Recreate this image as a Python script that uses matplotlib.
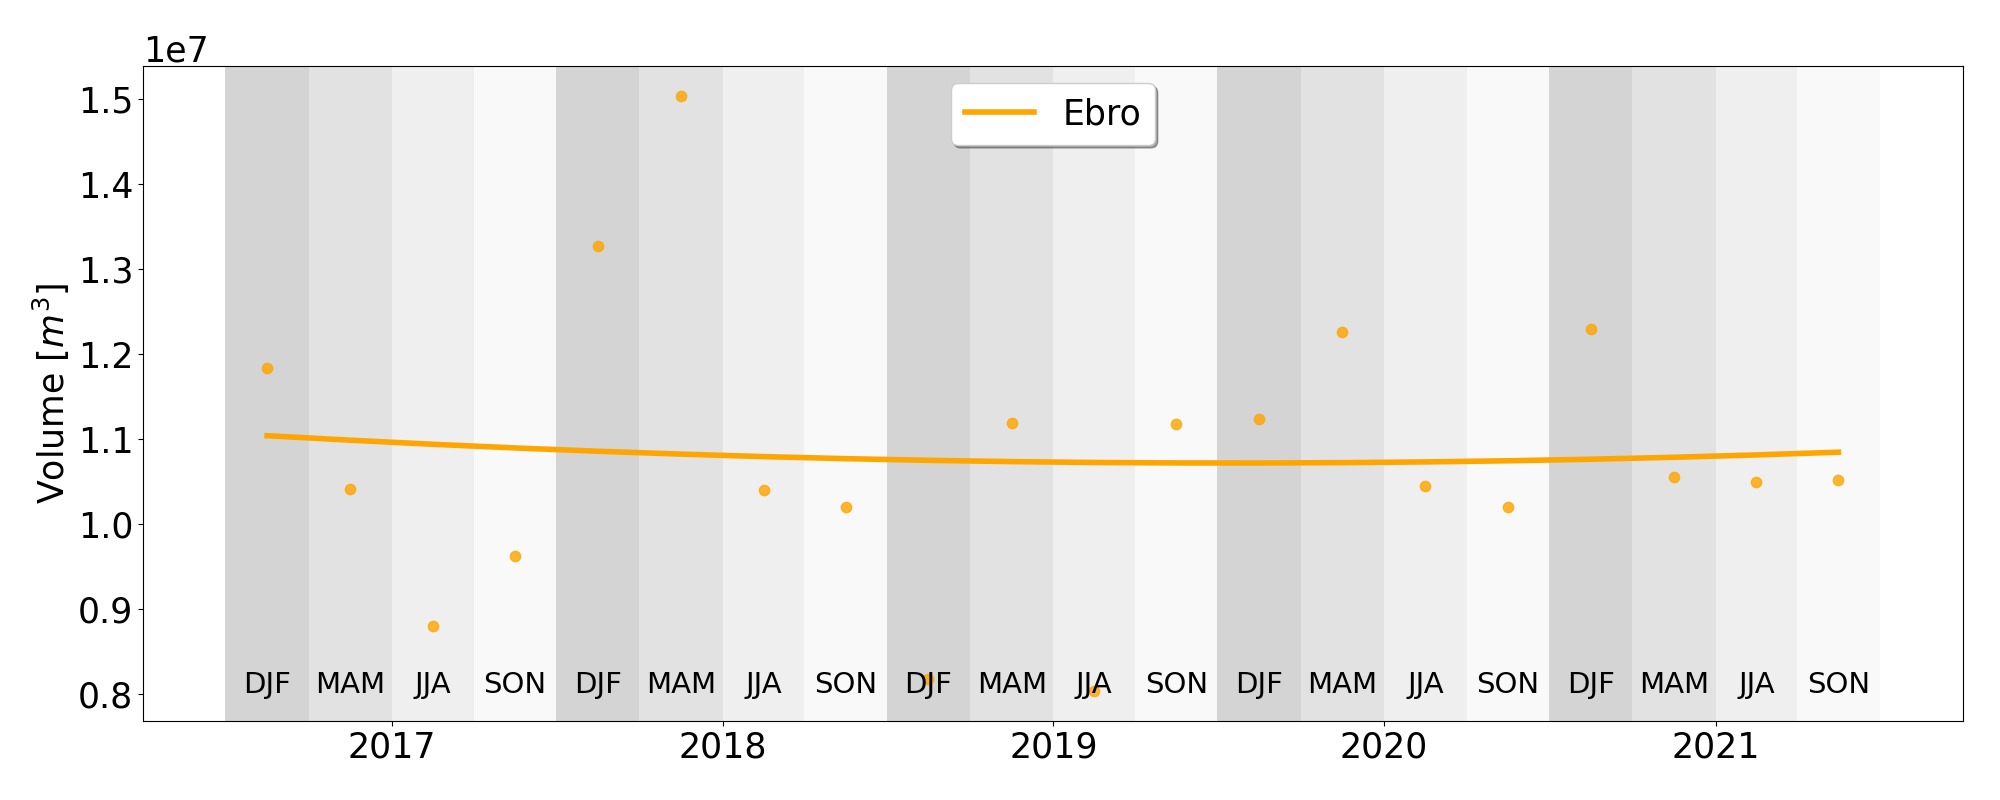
import numpy as np
import pandas as pd
import matplotlib
matplotlib.use("Agg")
from matplotlib import pyplot as plt
import matplotlib.dates as mdates

# seasonal volumes (m3), one per season band
seasons = ['DJF', 'MAM', 'JJA', 'SON'] * 5
volume = [1.184e7, 1.041e7, 0.881e7, 0.963e7,
          1.327e7, 1.504e7, 1.040e7, 1.020e7,
          0.818e7, 1.119e7, 0.804e7, 1.118e7,
          1.124e7, 1.226e7, 1.045e7, 1.020e7,
          1.230e7, 1.056e7, 1.050e7, 1.052e7]
band_colors = {'DJF': '#d4d4d4', 'MAM': '#e2e2e2', 'JJA': '#efefef', 'SON': '#f9f9f9'}

edges = pd.date_range('2016-07-01', periods=len(volume) + 1, freq='QS')
mid = edges[:-1] + (edges[1:] - edges[:-1]) / 2

fig = plt.figure(figsize=(20, 8), dpi=100)
ax = fig.add_axes([0.0715, 0.099, 0.91, 0.8185])

for i, s in enumerate(seasons):
    ax.axvspan(edges[i], edges[i + 1], color=band_colors[s], lw=0, zorder=0)
    ax.text(mid[i], 0.802e7, s, ha='center', va='baseline', fontsize=21, zorder=3)

ax.scatter(mid, volume, s=55, color='orange', alpha=0.8, zorder=2)

# quadratic trend
xn = mdates.date2num(mid)
coef = np.polyfit(xn, volume, 2)
ax.plot(mid, np.polyval(coef, xn), color='orange', lw=4, label='Ebro', zorder=2)

ax.set_xlim(mdates.date2num(pd.Timestamp('2016-04-01')), mdates.date2num(pd.Timestamp('2021-10-01')))
ax.xaxis.set_major_locator(mdates.YearLocator())
ax.xaxis.set_major_formatter(mdates.DateFormatter('%Y'))
ax.tick_params(labelsize=25)
ax.yaxis.get_offset_text().set_fontsize(25)
ax.set_ylabel('Volume [$m^3$]', fontsize=25)
ax.legend(loc='upper center', fontsize=25, shadow=True, framealpha=1)

plt.savefig('out.png')
